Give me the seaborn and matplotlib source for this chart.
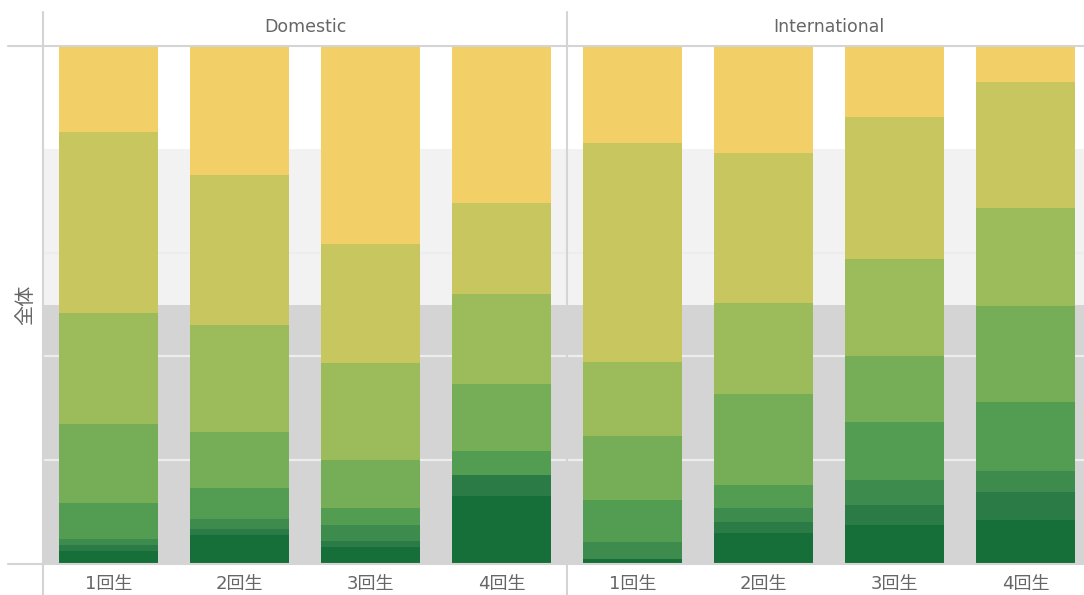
import matplotlib
matplotlib.use("Agg")
import matplotlib.pyplot as plt
from matplotlib.lines import Line2D
import numpy as np
import pandas as pd
import seaborn as sns

# data (percent of each bar, bottom segment first)
FACETS = ["Domestic", "International"]
YEARS = ["1回生", "2回生", "3回生", "4回生"]
LEVELS = ["区分1", "区分2", "区分3", "区分4", "区分5", "区分6", "区分7", "区分8"]

DOMESTIC = [
    [2.3, 1.2, 1.1, 7.0, 15.3, 21.5, 35.0, 16.6],
    [5.4, 1.2, 1.9, 6.0, 10.8, 20.7, 29.0, 25.0],
    [3.1, 1.2, 3.1, 3.2, 9.3, 18.8, 23.0, 38.3],
    [13.0, 4.0, 0.0, 4.7, 12.9, 17.4, 17.6, 30.4],
]
INTERNATIONAL = [
    [0.8, 0.0, 3.3, 8.1, 12.4, 14.3, 42.3, 18.8],
    [5.8, 2.1, 2.7, 4.5, 17.6, 17.6, 29.0, 20.7],
    [7.4, 3.8, 4.9, 11.2, 12.7, 18.8, 27.5, 13.7],
    [8.3, 5.4, 4.1, 13.3, 18.6, 19.0, 24.3, 7.0],
]

COLORS = ["#166e38", "#2a7b46", "#3d8c4e", "#529d52",
          "#76ae57", "#9cbb5a", "#c8c65e", "#f2cf67"]

W, H = 1084, 595
TEXT = "#666666"
LINE = "#d4d4d4"


def build_frame() -> pd.DataFrame:
    rows = []
    for facet, table in zip(FACETS, [DOMESTIC, INTERNATIONAL]):
        for year, values in zip(YEARS, table):
            cum = np.cumsum(values)
            for level, v, c in zip(LEVELS, values, cum):
                rows.append({"facet": facet, "year": year, "level": level,
                             "value": v, "cum": c})
    return pd.DataFrame(rows)


def px(x0, y0, w, h):
    # pixel box (top-left origin) -> figure fraction
    return [x0 / W, 1 - (y0 + h) / H, w / W, h / H]


sns.set_theme(style="white")
plt.rcParams["font.family"] = ["DejaVu Sans", "Noto Sans CJK JP"]

df = build_frame()
fig = plt.figure(figsize=(W / 100, H / 100), dpi=100)

for i, facet in enumerate(FACETS):
    ax = fig.add_axes(px(43 + i * 524, 46, 524, 517))
    sub = df[df["facet"] == facet]

    ax.axhspan(0, 50, color="#d4d4d4", zorder=0, lw=0)
    ax.axhspan(50, 80, color="#f2f2f2", zorder=0, lw=0)
    for g in [20, 40, 60]:
        ax.axhline(g, color="#ededed", lw=1.6, zorder=0.5)

    # stacked bars: draw cumulative totals from top level down
    for level, color in reversed(list(zip(LEVELS, COLORS))):
        part = sub[sub["level"] == level]
        sns.barplot(data=part, x="year", y="cum", order=YEARS, color=color,
                    saturation=1, width=0.75, linewidth=0, errorbar=None,
                    ax=ax, zorder=2)

    ax.set_xlim(-0.5, 3.5)
    ax.set_ylim(0, 100)
    ax.set_xlabel("")
    ax.set_ylabel("")
    ax.set_yticks([])
    for s in ax.spines.values():
        s.set_visible(False)
    ax.set_xticks(range(len(YEARS)))
    ax.set_xticklabels(YEARS, fontsize=13, color=TEXT)
    ax.set_xticks([0.5, 1.5, 2.5], minor=True)
    ax.tick_params(axis="x", which="major", length=0, pad=9)
    ax.tick_params(axis="x", which="minor", length=10, width=1,
                   color="#e6e6e6", direction="out")
    ax.patch.set_alpha(0)

    fig.text((43 + i * 524 + 262) / W, 1 - 27 / H, facet, ha="center",
             va="center", fontsize=12.5, color=TEXT)

# frame lines
fig.add_artist(Line2D([43 / W, 43 / W], [1 - 12 / H, 0], color=LINE, lw=1.5))
fig.add_artist(Line2D([567 / W, 567 / W], [1 - 12 / H, 0], color=LINE, lw=1.5))
fig.add_artist(Line2D([8 / W, 1], [1 - 46 / H, 1 - 46 / H], color=LINE, lw=1.5))
fig.add_artist(Line2D([8 / W, 1], [1 - 563.5 / H, 1 - 563.5 / H], color=LINE, lw=1.5))

fig.text(26 / W, 1 - 305 / H, "全体", rotation=90, ha="center", va="center",
         fontsize=14.5, color=TEXT)

fig.savefig("out.png", dpi=100)
